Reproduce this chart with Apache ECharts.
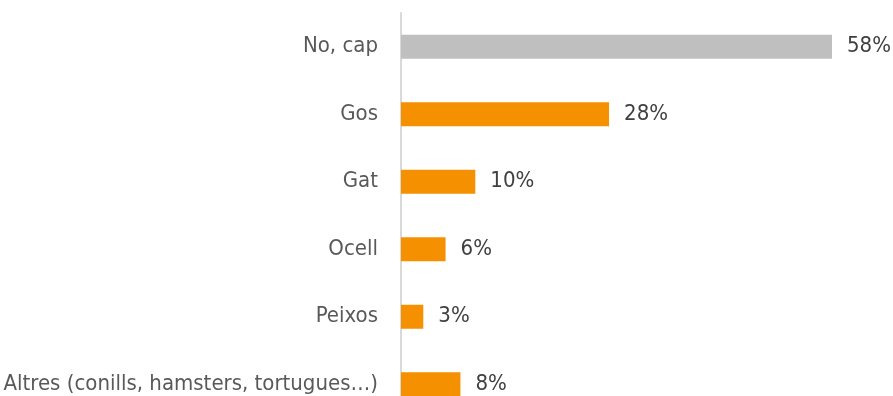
<!DOCTYPE html>
<html><head><meta charset="utf-8">
<script src="https://cdn.jsdelivr.net/npm/echarts@6/dist/echarts.min.js"></script>
<style>html,body{margin:0;padding:0;background:#fff;overflow:hidden;width:893px;height:396px}#c{width:893px;height:418px}</style>
</head><body><div id="c"></div>
<script>
const categories = ["No, cap", "Gos", "Gat", "Ocell", "Peixos", "Altres (conills, hamsters, tortugues…)"];
const values = [58, 28, 10, 6, 3, 8];
const barColors = ["#BFBFBF", "#F59100", "#F59100", "#F59100", "#F59100", "#F59100"];
const FONT = "'Liberation Sans Narrow', 'DejaVu Sans Condensed', Roboto, sans-serif";
const chart = echarts.init(document.getElementById('c'));
chart.setOption({
  animation: false,
  grid: { left: 401, width: 431, top: 13, bottom: 0, containLabel: false },
  xAxis: { type: 'value', min: 0, max: 58, show: false },
  yAxis: {
    type: 'category', inverse: true, data: categories,
    axisLine: { show: true, lineStyle: { color: '#D9D9D9', width: 2 } },
    axisTick: { show: false },
    axisLabel: { margin: 23, color: '#595959', fontSize: 22, fontFamily: FONT }
  },
  series: [{
    type: 'bar', barWidth: 24,
    data: values.map((v, i) => ({ value: v, itemStyle: { color: barColors[i] } })),
    label: { show: true, position: 'right', distance: 15, formatter: '{c}%', color: '#404040', fontSize: 22, fontFamily: FONT }
  }]
});
</script></body></html>
